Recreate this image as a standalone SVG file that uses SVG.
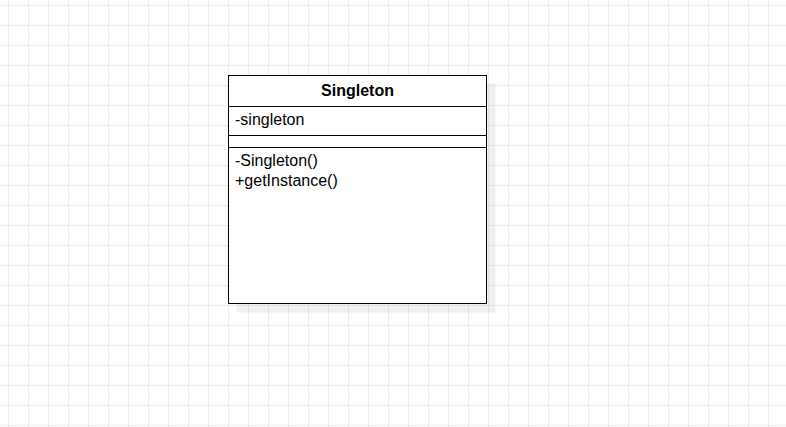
<svg xmlns="http://www.w3.org/2000/svg" width="786" height="427" viewBox="0 0 786 427">
  <defs>
    <pattern id="grid" x="8" y="5" width="20" height="20" patternUnits="userSpaceOnUse">
      <path d="M0 0.5 H20 M0.5 0 V20" fill="none" stroke="#ececec" stroke-width="1"/>
    </pattern>
    <style>
      .box { fill: #ffffff; stroke: #000000; stroke-width: 1; }
      .sep { stroke: #000000; stroke-width: 1; }
      .shadow { fill: #000000; fill-opacity: 0.06; }
      .t { font-family: "Liberation Sans", Arial, sans-serif; font-size: 16px; fill: #000000; }
      .title { font-weight: bold; text-anchor: middle; }
    </style>
  </defs>
  <rect x="0" y="0" width="786" height="427" fill="#ffffff"/>
  <rect x="0" y="0" width="786" height="427" fill="url(#grid)"/>
  <g id="connectors"></g>
  <g id="singleton">
    <rect class="shadow" x="236.5" y="83.5" width="259" height="229"/>
    <rect class="box" x="228.5" y="75.5" width="258" height="228"/>
    <line class="sep" x1="228.5" y1="106.5" x2="486.5" y2="106.5"/>
    <line class="sep" x1="228.5" y1="135.5" x2="486.5" y2="135.5"/>
    <line class="sep" x1="228.5" y1="147.5" x2="486.5" y2="147.5"/>
    <text class="t title" x="357.5" y="96">Singleton</text>
    <text class="t" x="235" y="125">-singleton</text>
    <text class="t" x="235" y="166">-Singleton()</text>
    <text class="t" x="235" y="186">+getInstance()</text>
  </g>
</svg>
